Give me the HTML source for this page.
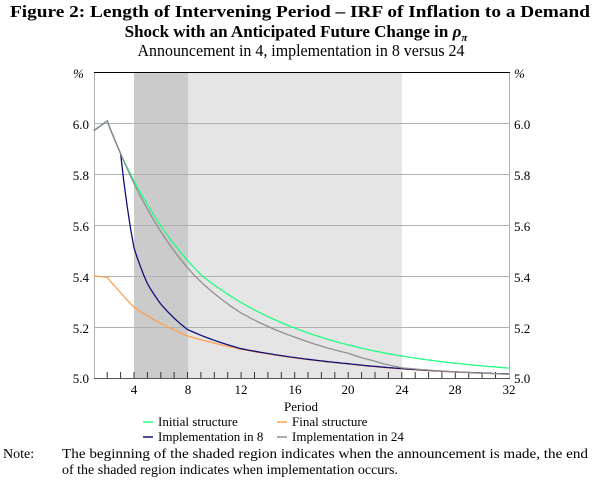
<!DOCTYPE html><html><head><meta charset="utf-8"><style>body{margin:0;background:#fff}svg{display:block}text{font-family:"Liberation Serif",serif}</style></head><body>
<svg id="s" width="600" height="483" xmlns="http://www.w3.org/2000/svg">
<text x="300" y="17" text-anchor="middle" font-weight="bold" font-size="17" textLength="580" lengthAdjust="spacingAndGlyphs">Figure 2: Length of Intervening Period – IRF of Inflation to a Demand</text>
<text x="296" y="37" text-anchor="middle" font-weight="bold" font-size="17">Shock with an Anticipated Future Change in <tspan font-style="italic">ρ</tspan><tspan font-size="11" dy="4" font-style="italic">π</tspan></text>
<text x="301" y="56" text-anchor="middle" font-size="16.5" textLength="327" lengthAdjust="spacingAndGlyphs">Announcement in 4, implementation in 8 versus 24</text>
<rect x="134" y="72" width="54" height="306" fill="#cbcbcb"/>
<rect x="188" y="72" width="214" height="306" fill="#e5e5e5"/>
<g stroke="#b0b0b0" stroke-width="1">
<line x1="94" y1="123.5" x2="509" y2="123.5"/><line x1="94" y1="174.5" x2="509" y2="174.5"/><line x1="94" y1="225.5" x2="509" y2="225.5"/><line x1="94" y1="276.5" x2="509" y2="276.5"/><line x1="94" y1="327.5" x2="509" y2="327.5"/>
<line x1="94.5" y1="72" x2="94.5" y2="378"/><line x1="509.5" y1="72" x2="509.5" y2="378"/>
</g>
<line x1="94" y1="72.5" x2="510" y2="72.5" stroke="#000"/>
<g id="ticks" stroke="#333"></g>
<line x1="94" y1="378.5" x2="510" y2="378.5" stroke="#555"/>
<g id="curves" fill="none" stroke-width="1.3"></g>
<g font-size="13" text-anchor="end">
<text x="89" y="129">6.0</text><text x="89" y="180">5.8</text><text x="89" y="231">5.6</text><text x="89" y="282">5.4</text><text x="89" y="333">5.2</text><text x="89" y="383">5.0</text>
</g>
<g font-size="13">
<text x="514" y="129">6.0</text><text x="514" y="180">5.8</text><text x="514" y="231">5.6</text><text x="514" y="282">5.4</text><text x="514" y="333">5.2</text><text x="514" y="383">5.0</text>
<text x="73" y="78" font-style="italic">%</text><text x="514" y="78" font-style="italic">%</text>
</g>
<g font-size="13" text-anchor="middle">
<text x="134" y="394">4</text><text x="188" y="394">8</text><text x="241" y="394">12</text><text x="295" y="394">16</text><text x="348" y="394">20</text><text x="402" y="394">24</text><text x="455" y="394">28</text><text x="509" y="394">32</text>
<text x="301" y="411">Period</text>
</g>
<g font-size="13">
<line x1="143" y1="422" x2="153" y2="422" stroke="#20ff80" stroke-width="1.5"/><text x="158" y="426">Initial structure</text>
<line x1="277" y1="422" x2="287" y2="422" stroke="#ffa050" stroke-width="1.5"/><text x="292" y="426">Final structure</text>
<line x1="143" y1="437" x2="153" y2="437" stroke="#10107a" stroke-width="1.5"/><text x="158" y="441">Implementation in 8</text>
<line x1="277" y1="437" x2="287" y2="437" stroke="#909090" stroke-width="1.5"/><text x="292" y="441">Implementation in 24</text>
</g>
<g font-size="14">
<text x="3" y="458">Note:</text>
<text x="62" y="458" textLength="526" lengthAdjust="spacingAndGlyphs">The beginning of the shaded region indicates when the announcement is made, the end</text>
<text x="62" y="474">of the shaded region indicates when implementation occurs.</text>
</g>
</svg>
<script>
var X=function(x){return 93.8+(x-1)*13.39},Y=function(v){return 378-v*255};
var t='';for(var i=2;i<=31;i++){var xx=X(i).toFixed(1);t+='<line x1="'+xx+'" y1="372" x2="'+xx+'" y2="378"/>';}
document.getElementById('ticks').innerHTML=t;
function interp(k,x){for(var i=0;i<k.length-1;i++){var a=k[i],b=k[i+1];if(x>=a[0]&&x<=b[0]){var f=(x-a[0])/(b[0]-a[0]);return Math.exp(Math.log(a[1])*(1-f)+Math.log(b[1])*f);}}return k[k.length-1][1];}
var S=[
['#ffa050',[[1,.40],[2,.395],[3,.335],[4,.278],[8,.165],[12,.113],[20,.055],[32,.015]]],
['#20ff80',[[1,.97],[2,1.008],[3,.88],[9.1,.40],[16.4,.188],[24,.086],[32,.039]]],
['#10107a',[[1,.97],[2,1.008],[3,.88],[4,.51],[5,.37],[6,.29],[7,.235],[8,.19],[12,.115],[20,.056],[32,.016]]],
['#909090',[[1,.97],[2,1.008],[3,.88],[8.55,.40],[12,.255],[16.4,.153],[20,.097],[22,.066],[24,.04],[26,.031],[32,.015]]]
];
var h='';S.forEach(function(s){var p=[];var k=s[1];var xs=[];for(var x=1;x<=32.001;x+=0.25)xs.push(x);
xs.forEach(function(x){p.push(X(x).toFixed(1)+','+Y(interp(k,x)).toFixed(1));});
h+='<polyline stroke="'+s[0]+'" points="'+p.join(' ')+'"/>';});
document.getElementById('curves').innerHTML=h;
</script>
</body></html>
